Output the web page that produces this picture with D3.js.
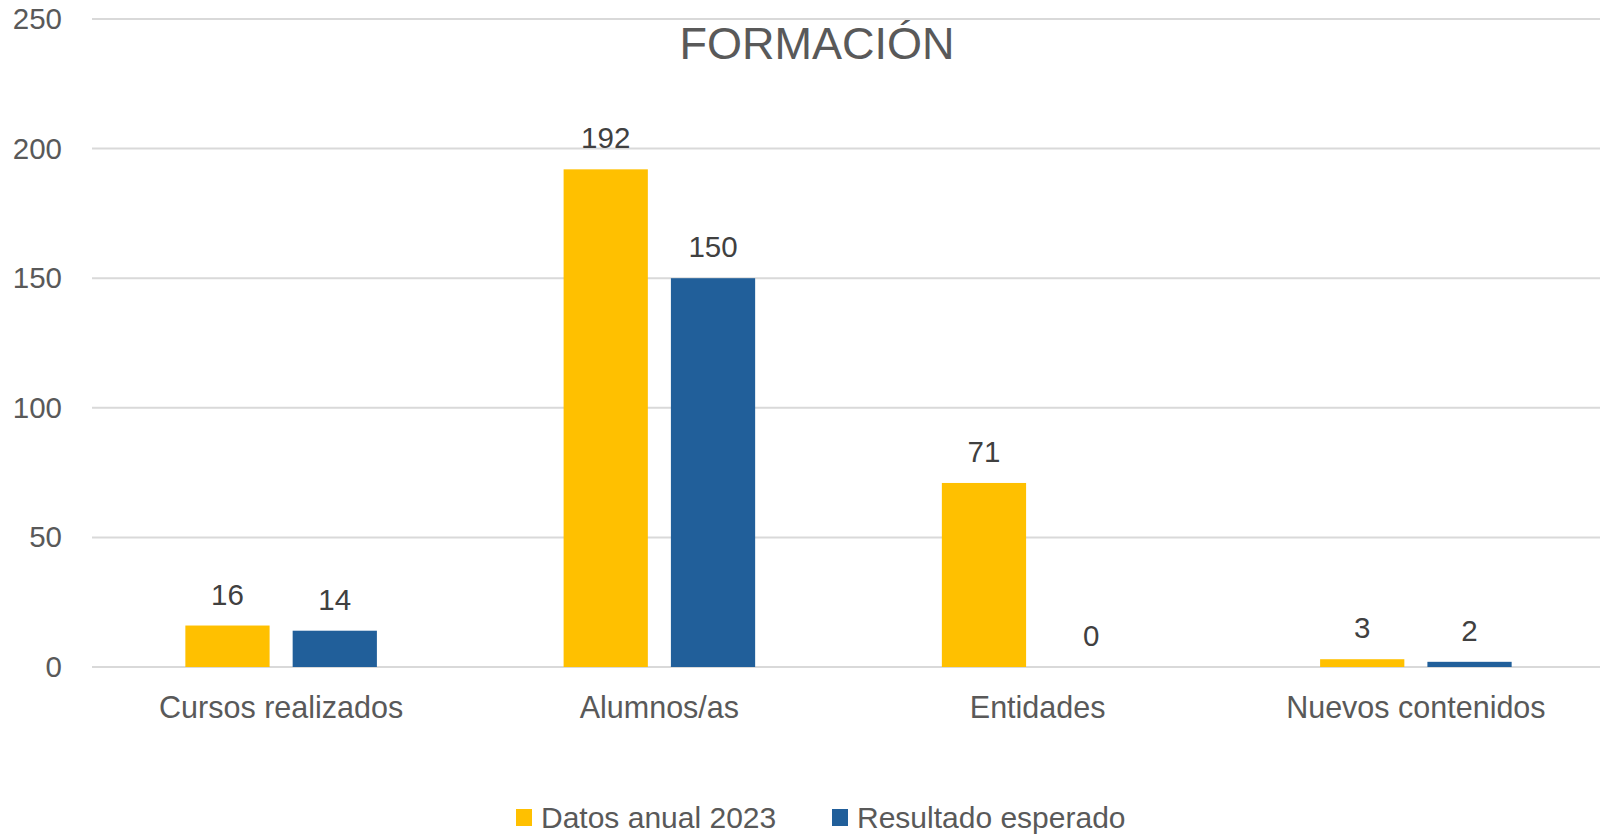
<!DOCTYPE html>
<html>
<head>
<meta charset="utf-8">
<script src="https://cdn.jsdelivr.net/npm/d3@7"></script>
<style>
  body { margin: 0; background: #fff; overflow: hidden; }
  text { font-family: "Liberation Sans", Arial, sans-serif; }
</style>
</head>
<body>
<div id="chart"></div>
<script>
// chart data
var categories = ["Cursos realizados", "Alumnos/as", "Entidades", "Nuevos contenidos"];
var seriesNames = ["Datos anual 2023", "Resultado esperado"];
var datos2023 = [16, 192, 71, 3];
var esperado = [14, 150, 0, 2];
var yTicks = [0, 50, 100, 150, 200, 250];

var colors = ["#FFC000", "#215F9A"];

var svgWidth = 1600;
var svgHeight = 834;
var margin = { top: 19, right: -5, bottom: 167, left: 92 };
var width = svgWidth - margin.left - margin.right;
var height = svgHeight - margin.top - margin.bottom;

var svg = d3.select("#chart")
  .append("svg")
  .attr("width", svgWidth)
  .attr("height", svgHeight);

var chartGroup = svg.append("g")
  .attr("transform", `translate(${margin.left}, ${margin.top})`);

// rows for grouped bars
var rows = categories.map(function(c, i) {
  return { cat: c, values: [datos2023[i], esperado[i]] };
});

// scales
var x0 = d3.scaleBand()
  .domain(categories)
  .range([0, width]);

var x1 = d3.scaleBand()
  .domain(seriesNames)
  .range([0, x0.bandwidth()])
  .paddingInner(23 / 107)
  .paddingOuter(0.87);

var y = d3.scaleLinear()
  .domain([0, 250])
  .range([height, 0]);

// gridlines
chartGroup.append("g")
  .selectAll("line")
  .data(yTicks)
  .enter()
  .append("line")
  .attr("x1", 0)
  .attr("x2", width)
  .attr("y1", d => y(d))
  .attr("y2", d => y(d))
  .attr("stroke", "#D9D9D9")
  .attr("stroke-width", 2);

// y axis labels
var leftAxis = d3.axisLeft(y).tickValues(yTicks).tickSize(0).tickPadding(30);
var yAxisG = chartGroup.append("g").call(leftAxis);
yAxisG.select(".domain").remove();
yAxisG.selectAll("text")
  .attr("font-size", "29.5px")
  .attr("font-family", "Liberation Sans, Arial, sans-serif")
  .attr("fill", "#595959");

// x axis labels
var bottomAxis = d3.axisBottom(x0).tickSize(0).tickPadding(29);
var xAxisG = chartGroup.append("g")
  .attr("transform", `translate(0, ${height})`)
  .call(bottomAxis);
xAxisG.select(".domain").remove();
xAxisG.selectAll("text")
  .attr("font-size", "30.5px")
  .attr("font-family", "Liberation Sans, Arial, sans-serif")
  .attr("fill", "#595959");

// bars
var groups = chartGroup.selectAll(".grp")
  .data(rows)
  .enter()
  .append("g")
  .attr("class", "grp")
  .attr("transform", d => `translate(${x0(d.cat)}, 0)`);

groups.selectAll("rect")
  .data(d => d.values.map((v, i) => ({ key: seriesNames[i], value: v, idx: i })))
  .enter()
  .append("rect")
  .attr("x", d => x1(d.key))
  .attr("y", d => y(d.value))
  .attr("width", x1.bandwidth())
  .attr("height", d => height - y(d.value))
  .attr("fill", d => colors[d.idx]);

// value labels
groups.selectAll(".val")
  .data(d => d.values.map((v, i) => ({ key: seriesNames[i], value: v })))
  .enter()
  .append("text")
  .attr("class", "val")
  .attr("x", d => x1(d.key) + x1.bandwidth() / 2)
  .attr("y", d => y(d.value) - 21)
  .attr("text-anchor", "middle")
  .attr("font-size", "29.5px")
  .attr("fill", "#404040")
  .text(d => d.value);

// title
svg.append("text")
  .attr("x", 817)
  .attr("y", 59)
  .attr("text-anchor", "middle")
  .attr("font-size", "45px")
  .attr("fill", "#595959")
  .text("FORMACIÓN");

// legend
var legendX = [516, 832];
var legend = svg.selectAll(".legend")
  .data(seriesNames)
  .enter()
  .append("g")
  .attr("class", "legend")
  .attr("transform", (d, i) => `translate(${legendX[i]}, 809)`);

legend.append("rect")
  .attr("width", 16)
  .attr("height", 17)
  .attr("fill", (d, i) => colors[i]);

legend.append("text")
  .attr("x", 25)
  .attr("y", 19)
  .attr("font-size", "30px")
  .attr("fill", "#595959")
  .text(d => d);
</script>
</body>
</html>
